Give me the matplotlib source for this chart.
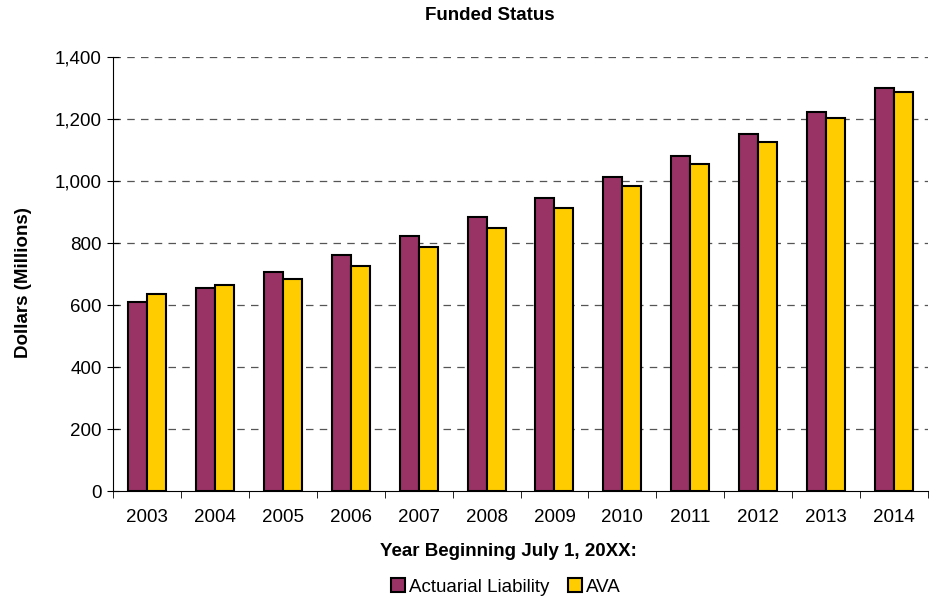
import numpy as np
import matplotlib
matplotlib.use("Agg")
import matplotlib.pyplot as plt
from matplotlib.ticker import FuncFormatter

plt.rcParams['font.family'] = ['Liberation Sans', 'DejaVu Sans']

years = ['2003', '2004', '2005', '2006', '2007', '2008',
         '2009', '2010', '2011', '2012', '2013', '2014']
liability = [609, 656, 707, 762, 822, 883, 945, 1012, 1080, 1152, 1223, 1300]
ava = [635, 665, 683, 727, 786, 848, 914, 983, 1054, 1127, 1203, 1286]

W, H = 930, 598
fig = plt.figure(figsize=(W / 100, H / 100), dpi=100)
ax = fig.add_axes([113 / W, 1 - 491 / H, 815 / W, 434 / H])

x = np.arange(len(years))
w = 0.28
ax.bar(x - w / 2, liability, w, color='#993366', edgecolor='black', linewidth=1.5,
       label='Actuarial Liability', zorder=3)
ax.bar(x + w / 2, ava, w, color='#FFCC00', edgecolor='black', linewidth=1.5,
       label='AVA', zorder=3)

ax.set_xlim(-0.5, len(years) - 0.5)
ax.set_ylim(0, 1400)
ax.set_yticks(range(0, 1401, 200))
ax.yaxis.set_major_formatter(FuncFormatter(lambda v, p: f'{int(v):,}'))
for yv in range(200, 1401, 200):
    ax.axhline(yv, color='#555555', linestyle=(0, (6, 5)), linewidth=0.9, zorder=1)

ax.set_xticks(x)
ax.set_xticklabels(years)
ax.set_xticks(np.arange(-0.5, len(years)), minor=True)
ax.tick_params(axis='x', which='major', length=0, pad=13, labelsize=13.5)
ax.tick_params(axis='x', which='minor', length=5, direction='out')
ax.tick_params(axis='y', length=8, direction='inout', labelsize=13.5, pad=4)

ax.spines['top'].set_visible(False)
ax.spines['right'].set_visible(False)

fig.text(490 / W, 1 - 16 / H, 'Funded Status', fontsize=13.5, fontweight='bold',
         ha='center', va='center')
fig.text(23 / W, 1 - 283 / H, 'Dollars (Millions)', fontsize=13.5, fontweight='bold',
         ha='center', va='center', rotation=90)
fig.text(508 / W, 1 - 552 / H, 'Year Beginning July 1, 20XX:', fontsize=13.5,
         fontweight='bold', ha='center', va='center')

fig.legend(loc='center', bbox_to_anchor=(506 / W, 1 - 587 / H), ncol=2, frameon=False,
           fontsize=13.5, handlelength=0.75, handleheight=0.75, handletextpad=0.2,
           columnspacing=1.0, borderpad=0, borderaxespad=0)

fig.savefig('out.png', dpi=100)
